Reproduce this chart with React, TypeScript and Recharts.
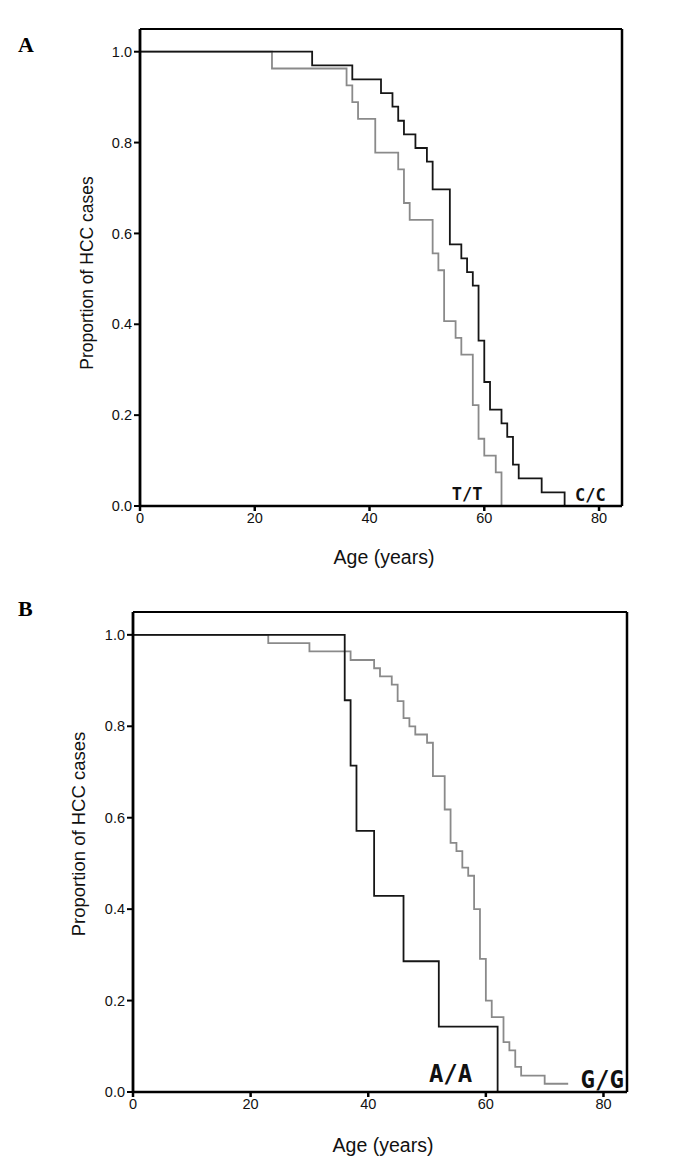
import React from 'react';
import { LineChart, Line, XAxis, YAxis, ReferenceDot, ReferenceLine } from 'recharts';

// Panel A (C/C vs T/T)
const agesTT = [0, 23, 36, 37, 38, 41, 45, 46, 47, 51, 52, 53, 55, 56, 58, 59, 60, 62, 63];
const propTT = [1, 0.963, 0.926, 0.889, 0.852, 0.778, 0.741, 0.667, 0.63, 0.556, 0.519, 0.407, 0.37, 0.333, 0.222, 0.148, 0.111, 0.074, 0];

const agesCC = [0, 30, 37, 42, 44, 45, 46, 48, 50, 51, 54, 56, 57, 58, 59, 60, 61, 63, 64, 65, 66, 70, 74];
const propCC = [1, 0.97, 0.939, 0.909, 0.879, 0.848, 0.818, 0.788, 0.758, 0.697, 0.576, 0.545, 0.515, 0.485, 0.364, 0.273, 0.212, 0.182, 0.152, 0.091, 0.061, 0.03, 0];

// Panel B (A/A vs G/G)
const agesAA = [0, 36, 37, 38, 41, 46, 52, 62];
const propAA = [1, 0.857, 0.714, 0.571, 0.429, 0.286, 0.143, 0];

const agesGG = [0, 23, 30, 37, 41, 42, 44, 45, 46, 47, 48, 50, 51, 53, 54, 55, 56, 57, 58, 59, 60, 61, 63, 64, 65, 66, 70, 74];
const propGG = [1, 0.982, 0.964, 0.945, 0.927, 0.909, 0.891, 0.855, 0.818, 0.8, 0.782, 0.764, 0.691, 0.618, 0.545, 0.527, 0.491, 0.473, 0.4, 0.291, 0.2, 0.164, 0.109, 0.091, 0.055, 0.036, 0.018, 0.018];

const xTicks = [0, 20, 40, 60, 80];
const yTicks = [0, 0.2, 0.4, 0.6, 0.8, 1.0];
const X_MAX = 84;
const Y_MAX = 1.05;
const xTitle = 'Age (years)';
const yTitle = 'Proportion of HCC cases';

const toRows = (ages: number[], props: number[]) => ages.map((age, i) => ({ age, p: props[i] }));

const BLACK = '#161616';
const GRAY = '#8a8a8a';
const SANS = 'Liberation Sans, Arial, sans-serif';
const MONO = 'DejaVu Sans Mono, monospace';

type PanelProps = {
  top: number;
  margin: { top: number; right: number; left: number; bottom: number };
  yWidth: number;
  blackRows: { age: number; p: number }[];
  grayRows: { age: number; p: number }[];
  labels: { x: number; y: number; text: string; size: number }[];
  yLabelDy: number;
  yLabelOffset: number;
  yLabelSize: number;
  xLabelOffset: number;
};

function Panel(props: PanelProps) {
  const { top, margin, yWidth, blackRows, grayRows, labels, yLabelDy, yLabelOffset, yLabelSize, xLabelOffset } = props;
  const tickStyle = { fontSize: 14.5, fontFamily: SANS, fill: '#111' };
  return (
    <div style={{ position: 'absolute', left: 0, top }}>
      <LineChart width={688} height={585} margin={margin}>
        <XAxis
          dataKey="age"
          type="number"
          domain={[0, X_MAX]}
          ticks={xTicks}
          allowDataOverflow
          axisLine={{ stroke: '#000', strokeWidth: 2.5 }}
          tickLine={{ stroke: '#000', strokeWidth: 2.5 }}
          tickSize={5}
          tickMargin={2}
          height={62}
          tick={tickStyle}
          label={{ value: xTitle, position: 'insideBottom', offset: xLabelOffset, dx: 3, fontSize: 19.5, fontFamily: SANS, fill: '#111' }}
        />
        <YAxis
          type="number"
          domain={[0, Y_MAX]}
          ticks={yTicks}
          allowDataOverflow
          width={yWidth}
          tickFormatter={(v: number) => v.toFixed(1)}
          axisLine={{ stroke: '#000', strokeWidth: 2.8 }}
          tickLine={{ stroke: '#000', strokeWidth: 2 }}
          tickSize={6}
          tickMargin={2}
          tick={tickStyle}
          label={{ value: yTitle, angle: -90, position: 'insideLeft', offset: yLabelOffset, dy: yLabelDy, style: { textAnchor: 'middle' }, fontSize: yLabelSize, fontFamily: SANS, fill: '#111' }}
        />
        <ReferenceLine y={Y_MAX} stroke="#000" strokeWidth={2} ifOverflow="visible" />
        <ReferenceLine x={X_MAX} stroke="#000" strokeWidth={2.5} ifOverflow="visible" />
        <Line data={grayRows} dataKey="p" type="stepAfter" stroke={GRAY} strokeWidth={1.8} dot={false} isAnimationActive={false} />
        <Line data={blackRows} dataKey="p" type="stepAfter" stroke={BLACK} strokeWidth={1.8} dot={false} isAnimationActive={false} />
        {labels.map((l) => (
          <ReferenceDot
            key={l.text}
            x={l.x}
            y={l.y}
            r={0}
            stroke="none"
            fill="none"
            label={{ value: l.text, position: 'center', fontSize: l.size, fontFamily: MONO, fontWeight: 'bold', fill: '#111' }}
          />
        ))}
      </LineChart>
    </div>
  );
}

const letterStyle: React.CSSProperties = {
  position: 'absolute',
  left: 18,
  fontFamily: 'Liberation Serif, Times New Roman, serif',
  fontWeight: 'bold',
  fontSize: 22,
  lineHeight: '22px',
  color: '#000',
};

export default function App() {
  return (
    <div style={{ position: 'absolute', left: 0, top: 0, width: 688, height: 1170, background: '#fff', overflow: 'hidden' }}>
      <div style={{ ...letterStyle, top: 34 }}>A</div>
      <div style={{ ...letterStyle, top: 598 }}>B</div>
      <Panel
        top={0}
        margin={{ top: 29, right: 66, left: 0, bottom: 17 }}
        yWidth={140}
        blackRows={toRows(agesCC, propCC)}
        grayRows={toRows(agesTT, propTT)}
        labels={[
          { x: 57, y: 0.027, text: 'T/T', size: 17 },
          { x: 78.5, y: 0.025, text: 'C/C', size: 17 },
        ]}
        yLabelDy={5.5}
        yLabelOffset={87}
        yLabelSize={17.5}
        xLabelOffset={4}
      />
      <Panel
        top={585}
        margin={{ top: 27, right: 61, left: 0, bottom: 16 }}
        yWidth={133}
        blackRows={toRows(agesAA, propAA)}
        grayRows={toRows(agesGG, propGG)}
        labels={[
          { x: 54, y: 0.04, text: 'A/A', size: 24 },
          { x: 79.8, y: 0.028, text: 'G/G', size: 24 },
        ]}
        yLabelDy={-18}
        yLabelOffset={78}
        yLabelSize={18.5}
        xLabelOffset={2}
      />
    </div>
  );
}
